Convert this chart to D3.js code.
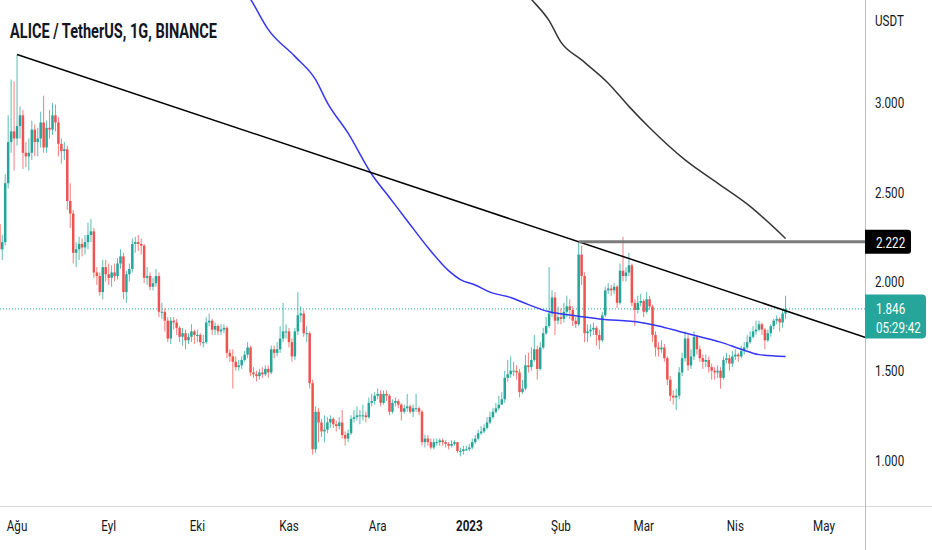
<!DOCTYPE html>
<html lang="tr">
<head>
<meta charset="UTF-8">
<title>ALICE / TetherUS, 1G, BINANCE</title>
<script src="https://cdn.jsdelivr.net/npm/d3@7"></script>
<style>
  html, body { margin: 0; padding: 0; background: #fff; }
  svg { display: block; }
  text { font-family: Roboto, "Noto Sans", sans-serif; }
</style>
</head>
<body>
<script>
// daily candles, first one on 26 Jul 2022 (open = previous close)
const firstDay = "2022-07-26";
const firstOpen = 2.32;

const closes = [
  2.18, 2.22, 2.55, 2.78, 2.84, 2.80, 2.87, 2.93, 2.72, 2.70,
  2.72, 2.85, 2.78, 2.80, 2.89, 2.75, 2.86, 2.85, 2.93, 2.89,
  2.77, 2.73, 2.74, 2.45, 2.38, 2.16, 2.18, 2.21, 2.19, 2.22,
  2.26, 2.28, 2.05, 2.03, 1.94, 2.08, 2.04, 2.02, 2.05, 2.03,
  2.10, 2.14, 1.94, 2.04, 2.07, 2.21, 2.22, 2.21, 2.20, 2.02,
  2.03, 1.97, 1.99, 2.03, 1.83, 1.83, 1.78, 1.68, 1.78, 1.77,
  1.74, 1.69, 1.71, 1.67, 1.69, 1.72, 1.70, 1.70, 1.66, 1.66,
  1.77, 1.78, 1.73, 1.75, 1.72, 1.73, 1.74, 1.60, 1.58, 1.55,
  1.52, 1.53, 1.56, 1.59, 1.63, 1.49, 1.48, 1.47, 1.49, 1.48,
  1.51, 1.49, 1.62, 1.60, 1.62, 1.68, 1.72, 1.72, 1.66, 1.58,
  1.72, 1.81, 1.82, 1.71, 1.71, 1.43, 1.06, 1.27, 1.21, 1.16,
  1.17, 1.21, 1.23, 1.20, 1.19, 1.21, 1.14, 1.12, 1.15, 1.23,
  1.24, 1.25, 1.25, 1.25, 1.24, 1.32, 1.33, 1.36, 1.37, 1.32,
  1.37, 1.36, 1.27, 1.32, 1.33, 1.31, 1.27, 1.29, 1.30, 1.27,
  1.29, 1.29, 1.27, 1.10, 1.12, 1.10, 1.07, 1.10, 1.10, 1.11,
  1.10, 1.09, 1.08, 1.09, 1.10, 1.05, 1.05, 1.06, 1.06, 1.07,
  1.10, 1.12, 1.15, 1.16, 1.18, 1.21, 1.24, 1.27, 1.29, 1.31,
  1.34, 1.46, 1.48, 1.50, 1.50, 1.49, 1.38, 1.40, 1.53, 1.52,
  1.56, 1.62, 1.51, 1.63, 1.71, 1.75, 1.82, 1.91, 1.78, 1.80,
  1.79, 1.83, 1.86, 1.84, 1.78, 1.76, 2.15, 2.03, 1.71, 1.72,
  1.73, 1.74, 1.70, 1.67, 1.81, 1.95, 1.96, 1.95, 1.97, 1.88,
  2.06, 2.03, 2.05, 2.09, 1.88, 1.84, 1.88, 1.89, 1.83, 1.90,
  1.86, 1.70, 1.63, 1.62, 1.63, 1.57, 1.45, 1.36, 1.35, 1.36,
  1.49, 1.57, 1.68, 1.53, 1.58, 1.69, 1.62, 1.57, 1.55, 1.56,
  1.52, 1.50, 1.49, 1.50, 1.46, 1.56, 1.57, 1.54, 1.58, 1.59,
  1.58, 1.61, 1.63, 1.66, 1.69, 1.72, 1.73, 1.76, 1.73, 1.67,
  1.71, 1.75, 1.78, 1.79, 1.77, 1.82, 1.846
];

const highs = [
  2.38, 2.26, 2.60, 2.93, 3.13, 3.12, 3.27, 2.98, 2.96, 2.78,
  2.80, 2.90, 2.88, 2.86, 2.95, 3.04, 2.90, 2.96, 3.00, 2.99,
  2.92, 2.80, 2.78, 2.76, 2.55, 2.40, 2.22, 2.25, 2.24, 2.26,
  2.33, 2.35, 2.30, 2.08, 2.05, 2.12, 2.12, 2.10, 2.09, 2.10,
  2.13, 2.18, 2.16, 2.06, 2.10, 2.24, 2.25, 2.26, 2.24, 2.21,
  2.08, 2.05, 2.02, 2.07, 2.05, 1.88, 1.85, 1.80, 1.80, 1.80,
  1.79, 1.75, 1.74, 1.73, 1.71, 1.76, 1.73, 1.73, 1.71, 1.70,
  1.80, 1.82, 1.79, 1.77, 1.76, 1.76, 1.76, 1.75, 1.62, 1.62,
  1.58, 1.56, 1.58, 1.61, 1.66, 1.64, 1.52, 1.50, 1.51, 1.52,
  1.53, 1.53, 1.64, 1.64, 1.66, 1.75, 1.88, 1.76, 1.74, 1.68,
  1.74, 1.94, 1.86, 1.84, 1.75, 1.72, 1.45, 1.30, 1.29, 1.23,
  1.25, 1.24, 1.25, 1.24, 1.22, 1.24, 1.28, 1.16, 1.17, 1.25,
  1.28, 1.30, 1.28, 1.31, 1.27, 1.35, 1.37, 1.38, 1.40, 1.39,
  1.39, 1.39, 1.37, 1.34, 1.35, 1.34, 1.32, 1.31, 1.37, 1.31,
  1.31, 1.37, 1.30, 1.28, 1.14, 1.14, 1.12, 1.12, 1.12, 1.12,
  1.12, 1.11, 1.10, 1.11, 1.11, 1.10, 1.07, 1.08, 1.08, 1.09,
  1.12, 1.14, 1.17, 1.19, 1.20, 1.24, 1.27, 1.29, 1.32, 1.36,
  1.38, 1.50, 1.56, 1.58, 1.55, 1.53, 1.51, 1.45, 1.59, 1.60,
  1.63, 1.70, 1.64, 1.66, 1.74, 1.80, 2.08, 1.95, 1.94, 1.86,
  1.85, 1.88, 1.92, 1.90, 1.86, 1.80, 2.22, 2.20, 2.05, 1.76,
  1.76, 1.77, 1.75, 1.73, 1.83, 1.97, 1.99, 1.98, 1.99, 1.98,
  2.10, 2.25, 2.08, 2.16, 2.10, 1.90, 1.92, 1.93, 1.90, 1.94,
  1.92, 1.87, 1.72, 1.66, 1.67, 1.65, 1.58, 1.47, 1.39, 1.40,
  1.52, 1.60, 1.72, 1.70, 1.62, 1.72, 1.70, 1.64, 1.59, 1.59,
  1.58, 1.54, 1.52, 1.53, 1.52, 1.58, 1.60, 1.59, 1.61, 1.62,
  1.60, 1.64, 1.66, 1.70, 1.72, 1.75, 1.78, 1.78, 1.77, 1.74,
  1.73, 1.76, 1.79, 1.81, 1.80, 1.84, 1.92
];

const lows = [
  2.08, 2.12, 2.20, 2.52, 2.72, 2.62, 2.76, 2.80, 2.63, 2.64,
  2.62, 2.68, 2.70, 2.70, 2.75, 2.72, 2.72, 2.80, 2.82, 2.84,
  2.70, 2.66, 2.68, 2.40, 2.30, 2.10, 2.08, 2.12, 2.14, 2.15,
  2.18, 2.22, 2.02, 1.98, 1.92, 1.90, 2.00, 1.98, 1.97, 2.00,
  2.01, 2.07, 1.90, 1.88, 2.00, 2.05, 2.16, 2.17, 2.15, 1.99,
  1.98, 1.95, 1.95, 1.97, 1.80, 1.79, 1.72, 1.66, 1.65, 1.73,
  1.70, 1.66, 1.64, 1.62, 1.65, 1.66, 1.65, 1.66, 1.64, 1.63,
  1.65, 1.75, 1.70, 1.70, 1.70, 1.70, 1.71, 1.57, 1.55, 1.40,
  1.50, 1.50, 1.51, 1.55, 1.57, 1.47, 1.46, 1.44, 1.45, 1.46,
  1.47, 1.46, 1.48, 1.57, 1.58, 1.60, 1.66, 1.68, 1.63, 1.55,
  1.56, 1.70, 1.77, 1.69, 1.66, 1.40, 1.03, 1.04, 1.10, 1.13,
  1.10, 1.15, 1.18, 1.18, 1.16, 1.17, 1.12, 1.08, 1.10, 1.14,
  1.21, 1.22, 1.20, 1.22, 1.21, 1.23, 1.30, 1.31, 1.34, 1.30,
  1.31, 1.33, 1.25, 1.26, 1.30, 1.29, 1.22, 1.26, 1.27, 1.26,
  1.24, 1.27, 1.25, 1.08, 1.07, 1.08, 1.06, 1.06, 1.08, 1.08,
  1.08, 1.07, 1.06, 1.07, 1.08, 1.04, 1.02, 1.03, 1.05, 1.05,
  1.06, 1.09, 1.11, 1.14, 1.15, 1.17, 1.20, 1.23, 1.26, 1.28,
  1.31, 1.32, 1.44, 1.46, 1.47, 1.45, 1.35, 1.37, 1.39, 1.49,
  1.50, 1.55, 1.45, 1.50, 1.62, 1.70, 1.74, 1.80, 1.70, 1.76,
  1.76, 1.77, 1.80, 1.79, 1.75, 1.74, 1.75, 1.98, 1.66, 1.66,
  1.69, 1.70, 1.64, 1.62, 1.66, 1.80, 1.93, 1.92, 1.93, 1.85,
  1.87, 2.00, 2.00, 2.03, 1.86, 1.75, 1.82, 1.86, 1.80, 1.82,
  1.84, 1.66, 1.58, 1.58, 1.60, 1.55, 1.42, 1.33, 1.31, 1.28,
  1.34, 1.47, 1.55, 1.50, 1.51, 1.56, 1.59, 1.55, 1.51, 1.52,
  1.49, 1.45, 1.45, 1.46, 1.40, 1.45, 1.54, 1.50, 1.52, 1.56,
  1.55, 1.57, 1.59, 1.62, 1.65, 1.68, 1.70, 1.72, 1.70, 1.62,
  1.66, 1.69, 1.73, 1.76, 1.72, 1.74, 1.79
];

// moving averages (samples)
const blueDates = ["2022-10-17","2022-10-19","2022-10-25","2022-11-03","2022-11-10","2022-11-14","2022-11-21","2022-11-29","2022-12-05","2022-12-11","2022-12-18","2022-12-25","2022-12-29","2023-01-03","2023-01-08","2023-01-15","2023-01-21","2023-01-28","2023-02-05","2023-02-14","2023-02-28","2023-03-06","2023-03-13","2023-03-20","2023-03-27","2023-04-03","2023-04-09","2023-04-18"];
const blueValues = [3.63, 3.58, 3.41, 3.26, 3.13, 3.00, 2.83, 2.60, 2.47, 2.34, 2.19, 2.06, 2.01, 1.98, 1.94, 1.91, 1.87, 1.83, 1.81, 1.79, 1.77, 1.75, 1.72, 1.69, 1.66, 1.62, 1.59, 1.58];
const grayDates = ["2023-01-19","2023-01-22","2023-01-28","2023-02-01","2023-02-08","2023-02-17","2023-02-24","2023-03-03","2023-03-15","2023-03-26","2023-04-06","2023-04-18"];
const grayValues = [3.64, 3.58, 3.46, 3.34, 3.24, 3.11, 2.98, 2.86, 2.68, 2.55, 2.42, 2.24];

// drawings
const trendDates = ["2022-08-01", "2023-02-07"];
const trendValues = [3.27, 2.222];
const levelDate = "2023-02-07";
const levelValue = 2.222;
const lastPrice = 1.846;
const countdown = "05:29:42";

const priceTicks = [1, 1.5, 2, 2.5, 3];
const monthDates = ["2022-08-01","2022-09-01","2022-10-01","2022-11-01","2022-12-01","2023-01-01","2023-02-01","2023-03-01","2023-04-01","2023-05-01"];
const monthLabels = ["Ağu","Eyl","Eki","Kas","Ara","2023","Şub","Mar","Nis","May"];

const width = 932, height = 550;
const plotRight = 865, plotBottom = 506;
const up = "#26a69a", down = "#ef5350";
const squeeze = 0.75;
const parse = d3.utcParse("%Y-%m-%d");

const svg = d3.select("body").append("svg")
  .attr("width", width)
  .attr("height", height);

const x = d3.scaleUtc()
  .domain([parse("2022-07-26"), parse("2023-05-01")])
  .range([-0.7, 824]);

const y = d3.scaleLinear()
  .domain([1, 3])
  .range([460, 102.8]);

svg.append("clipPath").attr("id", "plot")
  .append("rect").attr("width", plotRight).attr("height", plotBottom);

const plot = svg.append("g").attr("clip-path", "url(#plot)");

// candles
const start = parse(firstDay);
const candles = closes.map((c, i) => ({
  date: d3.utcDay.offset(start, i),
  open: i === 0 ? firstOpen : closes[i - 1],
  high: highs[i],
  low: lows[i],
  close: c
}));

const bars = plot.append("g").selectAll("g")
  .data(candles)
  .join("g")
  .attr("fill", d => d.close >= d.open ? up : down)
  .attr("stroke", d => d.close >= d.open ? up : down);

bars.append("line")
  .attr("x1", d => x(d.date)).attr("x2", d => x(d.date))
  .attr("y1", d => y(d.high)).attr("y2", d => y(d.low))
  .attr("stroke-width", 1)
  .attr("stroke-opacity", 0.75);

bars.append("rect")
  .attr("x", d => x(d.date) - 1.25)
  .attr("width", 2.5)
  .attr("y", d => y(Math.max(d.open, d.close)))
  .attr("height", d => Math.max(1, Math.abs(y(d.open) - y(d.close))))
  .attr("stroke", "none");

// last price dotted line
plot.append("line")
  .attr("x1", 0).attr("x2", plotRight)
  .attr("y1", y(lastPrice)).attr("y2", y(lastPrice))
  .attr("stroke", up)
  .attr("stroke-width", 1)
  .attr("stroke-dasharray", "1,2");

// moving averages
const maLine = d3.line()
  .x(d => x(parse(d[0])))
  .y(d => y(d[1]))
  .curve(d3.curveMonotoneX);

plot.append("path")
  .attr("d", maLine(d3.zip(blueDates, blueValues)))
  .attr("fill", "none")
  .attr("stroke", "#3636f2")
  .attr("stroke-width", 1.5);

plot.append("path")
  .attr("d", maLine(d3.zip(grayDates, grayValues)))
  .attr("fill", "none")
  .attr("stroke", "#363636")
  .attr("stroke-width", 1.5);

// trend line, extended to the price axis
const tx0 = x(parse(trendDates[0])), ty0 = y(trendValues[0]);
const tx1 = x(parse(trendDates[1])), ty1 = y(trendValues[1]);
const slope = (ty1 - ty0) / (tx1 - tx0);
plot.append("line")
  .attr("x1", tx0).attr("y1", ty0)
  .attr("x2", plotRight).attr("y2", ty0 + slope * (plotRight - tx0))
  .attr("stroke", "#000")
  .attr("stroke-width", 1.5);

// horizontal level
plot.append("line")
  .attr("x1", x(parse(levelDate))).attr("x2", plotRight)
  .attr("y1", y(levelValue)).attr("y2", y(levelValue))
  .attr("stroke", "#7b7b7b")
  .attr("stroke-width", 3);

// axes frame
svg.append("line")
  .attr("x1", 0).attr("x2", width)
  .attr("y1", plotBottom + 0.5).attr("y2", plotBottom + 0.5)
  .attr("stroke", "#d9d9d9");
svg.append("line")
  .attr("x1", plotRight + 0.5).attr("x2", plotRight + 0.5)
  .attr("y1", 0).attr("y2", height)
  .attr("stroke", "#bdbdbd");

function label(g, tx, ty, str, color = "#131722", anchor = "start") {
  return g.append("text")
    .attr("transform", `translate(${tx},${ty}) scale(${squeeze},1)`)
    .attr("text-anchor", anchor)
    .attr("font-size", 15.5)
    .style("fill", color)
    .text(str);
}

// price axis
const fmt = d3.format(".3f");
const yAxis = svg.append("g");
label(yAxis, 875, 26, "USDT");
priceTicks.forEach(v => label(yAxis, 875, y(v) + 5.5, fmt(v)));

// level label
const ly = y(levelValue);
yAxis.append("path")
  .attr("d", `M${plotRight},${ly - 12} H908 q3,0 3,3 V${ly + 9} q0,3 -3,3 H${plotRight} Z`)
  .style("fill", "#000");
label(yAxis, 876, ly + 6, fmt(levelValue), "#fff");

// last price label
const py = y(lastPrice);
yAxis.append("path")
  .attr("d", `M${plotRight},${py - 14.5} H922 q4,0 4,4 V${py + 25.5} q0,4 -4,4 H${plotRight} Z`)
  .style("fill", up);
label(yAxis, 876, py + 5.5, fmt(lastPrice), "#fff");
label(yAxis, 876, py + 24.5, countdown, "#fff");

// time axis
const xAxis = svg.append("g");
monthDates.forEach((d, i) => {
  const t = label(xAxis, x(parse(d)), 531, monthLabels[i], "#131722", "middle");
  if (monthLabels[i] === "2023") t.attr("font-weight", "bold");
});

// title
svg.append("text")
  .attr("x", 10).attr("y", 37.5)
  .attr("font-family", "'Open Sans', 'Noto Sans', sans-serif")
  .attr("font-weight", "bold")
  .attr("font-size", 19.5)
  .attr("textLength", 207)
  .attr("lengthAdjust", "spacingAndGlyphs")
  .style("fill", "#131722")
  .text("ALICE / TetherUS, 1G, BINANCE");
</script>
</body>
</html>
